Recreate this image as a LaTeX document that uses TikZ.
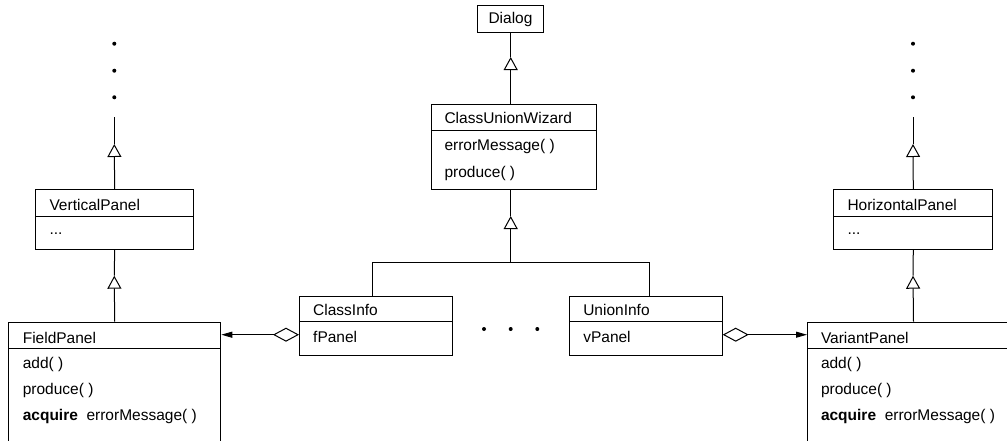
\documentclass[tikz,border=0pt]{standalone}
\usepackage{fontspec}
\setmainfont{Liberation Sans}
\usetikzlibrary{arrows.meta}
\begin{document}
\begin{tikzpicture}[x=1pt,y=-1pt, line width=1pt,
  box/.style={draw, inner sep=0pt, anchor=north west},
  txt/.style={anchor=base west, inner sep=0pt, font=\fontsize{15.5}{18}\selectfont},
  inh/.style={-{Triangle[open,length=13pt,width=14pt]}},
  agg/.style={{Diamond[open,length=26pt,width=14pt]}-{Triangle[length=11pt,width=6pt]}},
  dotn/.style={circle, fill, inner sep=0pt, minimum size=4pt}]
\useasboundingbox (0,0) rectangle (1007,440);
\clip (0,0) rectangle (1007,440);

% Dialog
\node[box, minimum width=66pt, minimum height=27pt, font=\fontsize{15.5}{18}\selectfont] (dialog) at (477,5) {Dialog};

% ClassUnionWizard
\node[box, minimum width=165pt, minimum height=85.3pt] (cuw) at (431,104) {};
\draw (cuw.west |- 0,130.7) -- (cuw.east |- 0,130.7);
\node[txt] (cuwt) at (444,123.5) {ClassUnionWizard};
\node[txt] (cuwa) at (444,150.5) {errorMessage( )};
\node[txt] (cuwb) at (444,177) {produce( )};

% VerticalPanel
\node[box, minimum width=158.3pt, minimum height=59.7pt] (vp) at (35,189.3) {};
\draw (vp.west |- 0,216) -- (vp.east |- 0,216);
\node[txt] (vpt) at (49,210.5) {VerticalPanel};
\node[txt] (vpa) at (49,234.5) {...};

% HorizontalPanel
\node[box, minimum width=159pt, minimum height=59.7pt] (hp) at (833.3,189.3) {};
\draw (hp.west |- 0,216) -- (hp.east |- 0,216);
\node[txt] (hpt) at (847,210.5) {HorizontalPanel};
\node[txt] (hpa) at (847,234.5) {...};

% FieldPanel
\node[box, minimum width=212.3pt, minimum height=140pt] (fp) at (8,321.7) {};
\draw (fp.west |- 0,348) -- (fp.east |- 0,348);
\node[txt] (fpt) at (22.3,343) {FieldPanel};
\node[txt] (fpa) at (22.3,368.5) {add( )};
\node[txt] (fpb) at (22.3,394.5) {produce( )};
\node[txt] (fpc) at (22.3,420.5) {\textbf{acquire}\ \ errorMessage( )};

% VariantPanel
\node[box, minimum width=212pt, minimum height=140pt] (var) at (807,321.7) {};
\draw (var.west |- 0,348) -- (var.east |- 0,348);
\node[txt] (vart) at (820.5,343) {VariantPanel};
\node[txt] (vara) at (820.5,368.5) {add( )};
\node[txt] (varb) at (820.5,394.5) {produce( )};
\node[txt] (varc) at (820.5,420.5) {\textbf{acquire}\ \ errorMessage( )};

% ClassInfo
\node[box, minimum width=152.7pt, minimum height=59.3pt] (ci) at (299,295.7) {};
\draw (ci.west |- 0,321.5) -- (ci.east |- 0,321.5);
\node[txt] (cit) at (312.7,315) {ClassInfo};
\node[txt] (cia) at (312.7,342) {fPanel};

% UnionInfo
\node[box, minimum width=152.4pt, minimum height=59.3pt] (ui) at (569.3,295.7) {};
\draw (ui.west |- 0,321.5) -- (ui.east |- 0,321.5);
\node[txt] (uit) at (582.8,315) {UnionInfo};
\node[txt] (uia) at (582.8,342) {vPanel};

% dots
\node[dotn] (ld1) at (114.3,43.7) {};
\node[dotn] (ld2) at (114.3,70.7) {};
\node[dotn] (ld3) at (114.3,97.3) {};
\node[dotn] (rd1) at (913,43.7) {};
\node[dotn] (rd2) at (913,70.7) {};
\node[dotn] (rd3) at (913,97.3) {};
\node[dotn] (md1) at (484,329) {};
\node[dotn] (md2) at (510.7,329) {};
\node[dotn] (md3) at (537.3,329) {};

% coordinates
\coordinate (ltop) at (114.3,116.7);
\coordinate (rtop) at (913,116.7);
\coordinate (lt1) at (114.3,144);
\coordinate (lt2) at (114.3,275.7);
\coordinate (rt1) at (913,144);
\coordinate (rt2) at (913,275.7);
\coordinate (dt) at (510.7,57);
\coordinate (ct) at (510.7,216);
\coordinate (junc) at (510.7,262.3);

% inheritance left
\draw[inh] (vp.north) -- (lt1);
\draw (lt1) -- (ltop);
\draw[inh] (fp.north) -- (lt2);
\draw (lt2) -- (vp.south);
% inheritance right
\draw[inh] (hp.north) -- (rt1);
\draw (rt1) -- (rtop);
\draw[inh] (var.north) -- (rt2);
\draw (rt2) -- (hp.south);
% Dialog
\draw[inh] (dt |- cuw.north) -- (dt);
\draw (dt) -- (dt |- dialog.south);
% ClassUnionWizard children
\draw[inh] (junc) -- (ct);
\draw (ct) -- (ct |- cuw.south);
\draw ([xshift=-3.6pt]ci.north) |- (junc) -| ([xshift=3.5pt]ui.north);

% aggregations
\draw[agg] (ci.west |- 0,334.7) -- (fp.east |- 0,334.7);
\draw[agg] (ui.east |- 0,334.7) -- (var.west |- 0,334.7);
\end{tikzpicture}
\end{document}
